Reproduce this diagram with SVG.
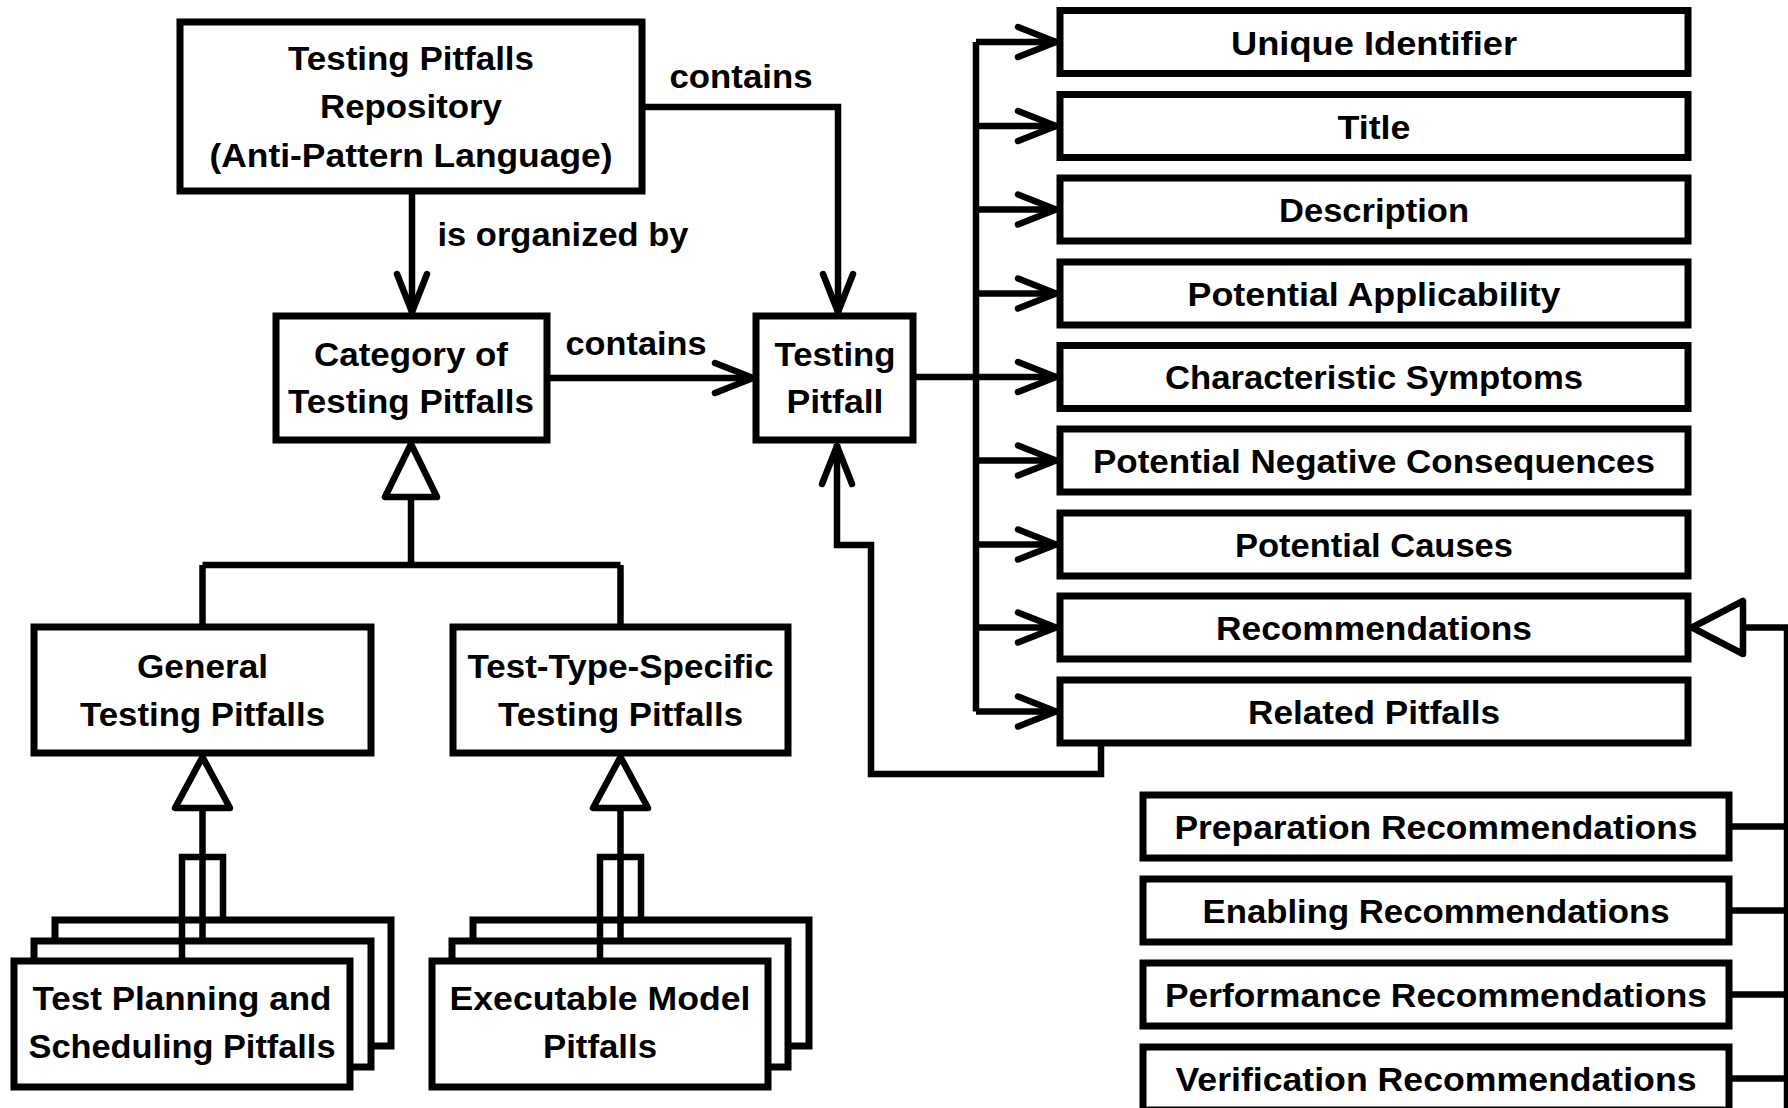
<svg xmlns="http://www.w3.org/2000/svg" width="1788" height="1108" viewBox="0 0 1788 1108">
<style>
.box{fill:#fff;stroke:#000;stroke-width:7}
.ln{fill:none;stroke:#000;stroke-width:6.5;stroke-linejoin:miter}
.tri{fill:#fff;stroke:#000;stroke-width:6.5;stroke-linejoin:round}
text{font-family:"Liberation Sans",Arial,sans-serif;font-weight:bold;font-size:34px;fill:#000;text-anchor:middle}
</style>
<defs>
<marker id="open" viewBox="-50 -25 60 50" refX="0" refY="0" markerWidth="60" markerHeight="50" markerUnits="userSpaceOnUse" orient="auto" overflow="visible">
<path d="M-40,-15 L-2,0 L-40,15" fill="none" stroke="#000" stroke-width="6.5" stroke-linecap="round" stroke-linejoin="round"/>
</marker>
</defs>
<rect width="1788" height="1108" fill="#fff"/>

<g id="node-repository">
<rect class="box" x="180" y="22" width="462" height="169"/>
<text x="411" y="70" textLength="246" lengthAdjust="spacingAndGlyphs">Testing Pitfalls</text>
<text x="411" y="118" textLength="182" lengthAdjust="spacingAndGlyphs">Repository</text>
<text x="411" y="167" textLength="403" lengthAdjust="spacingAndGlyphs">(Anti-Pattern Language)</text>
</g>

<g id="node-category">
<rect class="box" x="276" y="316" width="271" height="124"/>
<text x="411" y="366" textLength="194" lengthAdjust="spacingAndGlyphs">Category of</text>
<text x="411" y="413" textLength="246" lengthAdjust="spacingAndGlyphs">Testing Pitfalls</text>
</g>

<g id="node-testing-pitfall">
<rect class="box" x="756" y="316" width="157" height="124"/>
<text x="835" y="366" textLength="121" lengthAdjust="spacingAndGlyphs">Testing</text>
<text x="835" y="413" textLength="97" lengthAdjust="spacingAndGlyphs">Pitfall</text>
</g>

<g id="node-general">
<rect class="box" x="34" y="627" width="337" height="126"/>
<text x="202.5" y="678" textLength="131" lengthAdjust="spacingAndGlyphs">General</text>
<text x="202.5" y="726" textLength="245" lengthAdjust="spacingAndGlyphs">Testing Pitfalls</text>
</g>

<g id="node-test-type-specific">
<rect class="box" x="453" y="627" width="335" height="126"/>
<text x="620.5" y="678" textLength="306" lengthAdjust="spacingAndGlyphs">Test-Type-Specific</text>
<text x="620.5" y="726" textLength="245" lengthAdjust="spacingAndGlyphs">Testing Pitfalls</text>
</g>

<g id="node-test-planning">
<rect class="box" x="55" y="920" width="336" height="126"/>
<rect class="box" x="34" y="941" width="337" height="126"/>
<rect class="box" x="14" y="961" width="336" height="126"/>
<text x="182" y="1010" textLength="299" lengthAdjust="spacingAndGlyphs">Test Planning and</text>
<text x="182" y="1058" textLength="307" lengthAdjust="spacingAndGlyphs">Scheduling Pitfalls</text>
</g>

<g id="node-executable-model">
<rect class="box" x="473" y="920" width="336" height="126"/>
<rect class="box" x="452" y="941" width="336" height="126"/>
<rect class="box" x="432" y="961" width="336" height="126"/>
<text x="600" y="1010" textLength="301" lengthAdjust="spacingAndGlyphs">Executable Model</text>
<text x="600" y="1058" textLength="114" lengthAdjust="spacingAndGlyphs">Pitfalls</text>
</g>

<g id="node-unique-identifier">
<rect class="box" x="1060" y="10.5" width="628" height="63"/>
<text x="1374" y="54.5" textLength="286" lengthAdjust="spacingAndGlyphs">Unique Identifier</text>
</g>
<g id="node-title">
<rect class="box" x="1060" y="94.5" width="628" height="63"/>
<text x="1374" y="138.5" textLength="73" lengthAdjust="spacingAndGlyphs">Title</text>
</g>
<g id="node-description">
<rect class="box" x="1060" y="178" width="628" height="63"/>
<text x="1374" y="221.5" textLength="190" lengthAdjust="spacingAndGlyphs">Description</text>
</g>
<g id="node-potential-applicability">
<rect class="box" x="1060" y="262" width="628" height="63"/>
<text x="1374" y="305.5" textLength="373" lengthAdjust="spacingAndGlyphs">Potential Applicability</text>
</g>
<g id="node-characteristic-symptoms">
<rect class="box" x="1060" y="345.5" width="628" height="63"/>
<text x="1374" y="388.5" textLength="418" lengthAdjust="spacingAndGlyphs">Characteristic Symptoms</text>
</g>
<g id="node-potential-negative-consequences">
<rect class="box" x="1060" y="429" width="628" height="63"/>
<text x="1374" y="472.5" textLength="562" lengthAdjust="spacingAndGlyphs">Potential Negative Consequences</text>
</g>
<g id="node-potential-causes">
<rect class="box" x="1060" y="513" width="628" height="63"/>
<text x="1374" y="556.5" textLength="278" lengthAdjust="spacingAndGlyphs">Potential Causes</text>
</g>
<g id="node-recommendations">
<rect class="box" x="1060" y="596" width="628" height="63"/>
<text x="1374" y="639.5" textLength="316" lengthAdjust="spacingAndGlyphs">Recommendations</text>
</g>
<g id="node-related-pitfalls">
<rect class="box" x="1060" y="680" width="628" height="63"/>
<text x="1374" y="723.5" textLength="252" lengthAdjust="spacingAndGlyphs">Related Pitfalls</text>
</g>

<g id="node-preparation">
<rect class="box" x="1143" y="795" width="586" height="63"/>
<text x="1436" y="838.5" textLength="523" lengthAdjust="spacingAndGlyphs">Preparation Recommendations</text>
</g>
<g id="node-enabling">
<rect class="box" x="1143" y="879" width="586" height="63"/>
<text x="1436" y="922.5" textLength="467" lengthAdjust="spacingAndGlyphs">Enabling Recommendations</text>
</g>
<g id="node-performance">
<rect class="box" x="1143" y="963" width="586" height="63"/>
<text x="1436" y="1006.5" textLength="542" lengthAdjust="spacingAndGlyphs">Performance Recommendations</text>
</g>
<g id="node-verification">
<rect class="box" x="1143" y="1047" width="586" height="63"/>
<text x="1436" y="1090.5" textLength="521" lengthAdjust="spacingAndGlyphs">Verification Recommendations</text>
</g>

<g id="connectors">
<path class="ln" d="M642,107 H838 V314" marker-end="url(#open)"/>
<text x="741" y="88" textLength="143" lengthAdjust="spacingAndGlyphs">contains</text>
<path class="ln" d="M412,191 V314" marker-end="url(#open)"/>
<text x="563" y="246" textLength="251" lengthAdjust="spacingAndGlyphs">is organized by</text>
<path class="ln" d="M547,378 H755" marker-end="url(#open)"/>
<text x="636" y="355" textLength="141" lengthAdjust="spacingAndGlyphs">contains</text>

<path class="ln" d="M411,497 V565 M202.5,565 H620.5 M202.5,565 V627 M620.5,565 V627"/>
<polygon class="tri" points="411,444 385,497 437,497"/>

<path class="ln" d="M202.5,808 V941 M182,961 V857 H223 V920"/>
<polygon class="tri" points="202.5,757 175,808 230,808"/>
<path class="ln" d="M620.5,808 V941 M600,961 V857 H641 V920"/>
<polygon class="tri" points="620.5,757 593,808 648,808"/>

<path class="ln" d="M913,377 H976 M976,42 V711.5"/>
<path class="ln" d="M976,42 H1058" marker-end="url(#open)"/>
<path class="ln" d="M976,126 H1058" marker-end="url(#open)"/>
<path class="ln" d="M976,209.5 H1058" marker-end="url(#open)"/>
<path class="ln" d="M976,293.5 H1058" marker-end="url(#open)"/>
<path class="ln" d="M976,377 H1058" marker-end="url(#open)"/>
<path class="ln" d="M976,460.5 H1058" marker-end="url(#open)"/>
<path class="ln" d="M976,544.5 H1058" marker-end="url(#open)"/>
<path class="ln" d="M976,627.5 H1058" marker-end="url(#open)"/>
<path class="ln" d="M976,711.5 H1058" marker-end="url(#open)"/>

<path class="ln" d="M1101,743 V774 H871 V545 H837 V444" marker-end="url(#open)"/>

<path class="ln" d="M1743,627.5 H1787 V1108 M1729,826.5 H1788 M1729,910.5 H1788 M1729,994.5 H1788 M1729,1078.5 H1788"/>
<polygon class="tri" points="1692,627.5 1743,601 1743,654"/>
</g>
</svg>
